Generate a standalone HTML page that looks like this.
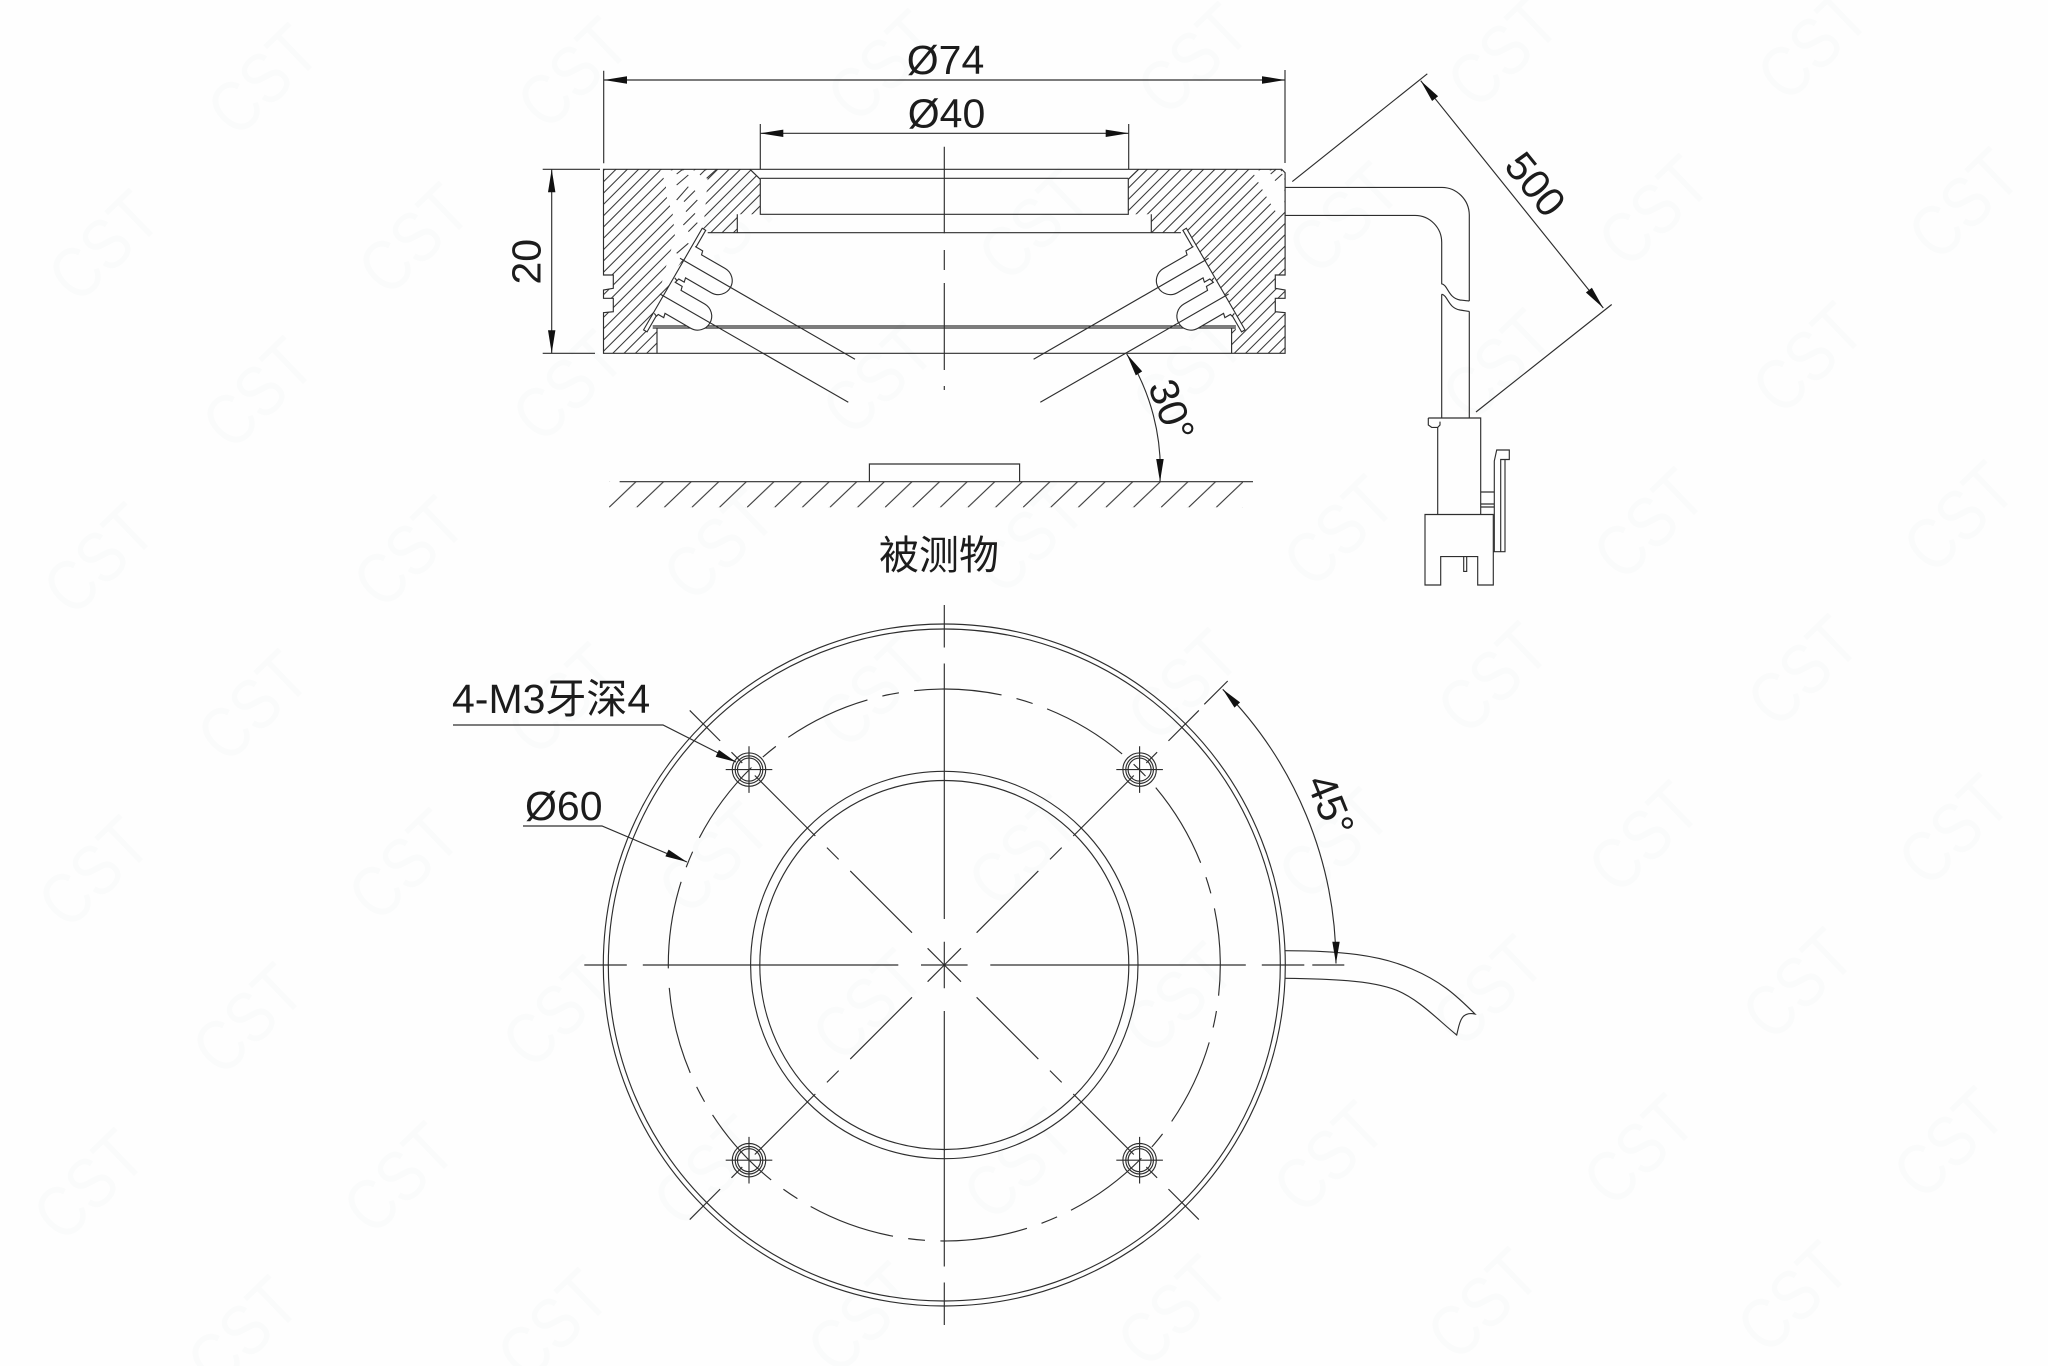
<!DOCTYPE html>
<html lang="zh">
<head>
<meta charset="utf-8">
<title>Ring light drawing</title>
<style>
html,body{margin:0;padding:0;background:#fefefe;width:2048px;height:1366px;overflow:hidden}
svg{display:block}
.wm text{font-family:"Liberation Sans",sans-serif;font-size:60px;fill:#fafbfb;text-anchor:middle}
.l{fill:none;stroke:#2e2e2e;stroke-width:1.15}
.t{font-family:"Liberation Sans","Noto Sans CJK SC",sans-serif;font-size:41px;fill:#1c1c1c}
.m{text-anchor:middle}
.a{fill:#111;stroke:none}
</style>
</head>
<body>
<svg xmlns="http://www.w3.org/2000/svg" width="2048" height="1366" viewBox="0 0 2048 1366">
<defs>
<clipPath id="blocks">
<polygon points="603.5,169.3 750,169.3 760.3,179.3 760.3,214.3 737.3,214.3 737.3,232.7 707.7,232.7 702.3,228.3 643.3,330 650.7,331.7 655,327 657,327 657,353.3 603.5,353.3 603.5,312.7 613.3,311.7 613.3,298.3 603.5,298.3 603.5,290 613.3,288.3 613.3,275 603.5,275"/>
<polygon points="1285.1,172.7 1281.7,169.3 1138.6,169.3 1128.3,179.3 1128.3,214.3 1151.3,214.3 1151.3,232.7 1180.9,232.7 1186.3,228.3 1245.3,330 1237.9,331.7 1233.6,327 1231.6,327 1231.6,353.3 1285.1,353.3 1285.1,312.7 1275.3,311.7 1275.3,298.3 1285.1,298.3 1285.1,290 1275.3,288.3 1275.3,275 1285.1,275"/>
</clipPath>
<pattern id="gh" patternUnits="userSpaceOnUse" x="609" y="481.7" width="27.6" height="25.7">
<line x1="27" y1="0" x2="0" y2="25.7" stroke="#333" stroke-width="1.1"/>
</pattern>
<g id="leds" transform="translate(580 150) scale(.33333) rotate(30)" fill="#fefefe" stroke="#2e2e2e" stroke-width="3.4">
<rect x="435" y="20" width="12" height="352"/>
<path d="M444 78H470L473 90H555A42 42 0 0 1 555 174H466L469 187H450L448 194L438 190"/>
<path d="M444 201H470L473 213H555A42 42 0 0 1 555 297H466L469 310H450L448 317L438 313"/>
</g>
<path id="axis" class="l" d="M0 0H23.3M46 0H301.5M317.5 0H360"/>
<path id="diag" class="l" d="M0 0H23.6M45.7 0H133M149.4 0H166M182.4 0H268M285.7 0H301M317 0H360"/>
<g id="hole" class="l"><circle r="16.7"/><circle r="13.8"/><circle r="11.5"/><path d="M-23.3 0H23.3M0 -23.3V23.3"/></g>
</defs>

<rect width="2048" height="1366" fill="#fefefe"/>

<g class="wm" transform="translate(17 18)">
<text transform="translate(263 80)rotate(-44)scale(1 1.2)">CST</text>
<text transform="translate(573 73)rotate(-44)scale(1 1.2)">CST</text>
<text transform="translate(883 66)rotate(-44)scale(1 1.2)">CST</text>
<text transform="translate(1193 59)rotate(-44)scale(1 1.2)">CST</text>
<text transform="translate(1503 52)rotate(-44)scale(1 1.2)">CST</text>
<text transform="translate(1813 45)rotate(-44)scale(1 1.2)">CST</text>
<text transform="translate(258 393)rotate(-44)scale(1 1.2)">CST</text>
<text transform="translate(568 386)rotate(-44)scale(1 1.2)">CST</text>
<text transform="translate(878 379)rotate(-44)scale(1 1.2)">CST</text>
<text transform="translate(1188 372)rotate(-44)scale(1 1.2)">CST</text>
<text transform="translate(1498 365)rotate(-44)scale(1 1.2)">CST</text>
<text transform="translate(1808 358)rotate(-44)scale(1 1.2)">CST</text>
<text transform="translate(253 706)rotate(-44)scale(1 1.2)">CST</text>
<text transform="translate(563 699)rotate(-44)scale(1 1.2)">CST</text>
<text transform="translate(873 692)rotate(-44)scale(1 1.2)">CST</text>
<text transform="translate(1183 685)rotate(-44)scale(1 1.2)">CST</text>
<text transform="translate(1493 678)rotate(-44)scale(1 1.2)">CST</text>
<text transform="translate(1803 671)rotate(-44)scale(1 1.2)">CST</text>
<text transform="translate(248 1019)rotate(-44)scale(1 1.2)">CST</text>
<text transform="translate(558 1012)rotate(-44)scale(1 1.2)">CST</text>
<text transform="translate(868 1005)rotate(-44)scale(1 1.2)">CST</text>
<text transform="translate(1178 998)rotate(-44)scale(1 1.2)">CST</text>
<text transform="translate(1488 991)rotate(-44)scale(1 1.2)">CST</text>
<text transform="translate(1798 984)rotate(-44)scale(1 1.2)">CST</text>
<text transform="translate(243 1332)rotate(-44)scale(1 1.2)">CST</text>
<text transform="translate(553 1325)rotate(-44)scale(1 1.2)">CST</text>
<text transform="translate(863 1318)rotate(-44)scale(1 1.2)">CST</text>
<text transform="translate(1173 1311)rotate(-44)scale(1 1.2)">CST</text>
<text transform="translate(1483 1304)rotate(-44)scale(1 1.2)">CST</text>
<text transform="translate(1793 1297)rotate(-44)scale(1 1.2)">CST</text>
<text transform="translate(104 246)rotate(-44)scale(1 1.2)">CST</text>
<text transform="translate(414 239)rotate(-44)scale(1 1.2)">CST</text>
<text transform="translate(724 232)rotate(-44)scale(1 1.2)">CST</text>
<text transform="translate(1034 225)rotate(-44)scale(1 1.2)">CST</text>
<text transform="translate(1344 218)rotate(-44)scale(1 1.2)">CST</text>
<text transform="translate(1654 211)rotate(-44)scale(1 1.2)">CST</text>
<text transform="translate(1964 204)rotate(-44)scale(1 1.2)">CST</text>
<text transform="translate(99 559)rotate(-44)scale(1 1.2)">CST</text>
<text transform="translate(409 552)rotate(-44)scale(1 1.2)">CST</text>
<text transform="translate(719 545)rotate(-44)scale(1 1.2)">CST</text>
<text transform="translate(1029 538)rotate(-44)scale(1 1.2)">CST</text>
<text transform="translate(1339 531)rotate(-44)scale(1 1.2)">CST</text>
<text transform="translate(1649 524)rotate(-44)scale(1 1.2)">CST</text>
<text transform="translate(1959 517)rotate(-44)scale(1 1.2)">CST</text>
<text transform="translate(94 872)rotate(-44)scale(1 1.2)">CST</text>
<text transform="translate(404 865)rotate(-44)scale(1 1.2)">CST</text>
<text transform="translate(714 858)rotate(-44)scale(1 1.2)">CST</text>
<text transform="translate(1024 851)rotate(-44)scale(1 1.2)">CST</text>
<text transform="translate(1334 844)rotate(-44)scale(1 1.2)">CST</text>
<text transform="translate(1644 837)rotate(-44)scale(1 1.2)">CST</text>
<text transform="translate(1954 830)rotate(-44)scale(1 1.2)">CST</text>
<text transform="translate(89 1185)rotate(-44)scale(1 1.2)">CST</text>
<text transform="translate(399 1178)rotate(-44)scale(1 1.2)">CST</text>
<text transform="translate(709 1171)rotate(-44)scale(1 1.2)">CST</text>
<text transform="translate(1019 1164)rotate(-44)scale(1 1.2)">CST</text>
<text transform="translate(1329 1157)rotate(-44)scale(1 1.2)">CST</text>
<text transform="translate(1639 1150)rotate(-44)scale(1 1.2)">CST</text>
<text transform="translate(1949 1143)rotate(-44)scale(1 1.2)">CST</text>
</g>

<!-- section hatch -->
<path clip-path="url(#blocks)" fill="none" stroke="#3a3a3a" stroke-width="1.05" d="M420 354l185-185M431.3 354l185-185M442.6 354l185-185M453.9 354l185-185M465.2 354l185-185M476.5 354l185-185M487.8 354l185-185M499.1 354l185-185M510.4 354l185-185M521.7 354l185-185M533 354l185-185M544.3 354l185-185M555.6 354l185-185M566.9 354l185-185M578.2 354l185-185M589.5 354l185-185M600.8 354l185-185M612.1 354l185-185M623.4 354l185-185M634.7 354l185-185M646 354l185-185M657.3 354l185-185M939.8 354l185-185M951.1 354l185-185M962.4 354l185-185M973.7 354l185-185M985 354l185-185M996.3 354l185-185M1007.6 354l185-185M1018.9 354l185-185M1030.2 354l185-185M1041.5 354l185-185M1052.8 354l185-185M1064.1 354l185-185M1075.4 354l185-185M1086.7 354l185-185M1098 354l185-185M1109.3 354l185-185M1120.6 354l185-185M1131.9 354l185-185M1143.2 354l185-185M1154.5 354l185-185M1165.8 354l185-185M1177.1 354l185-185M1188.4 354l185-185M1199.7 354l185-185M1211 354l185-185M1222.3 354l185-185M1233.6 354l185-185M1244.9 354l185-185M1256.2 354l185-185M1267.5 354l185-185M1278.8 354l185-185"/>

<!-- erased hatch band left -->
<g transform="translate(580 150) scale(.33333)">
<polygon fill="#fefefe" points="240,61 258,100 258,135 278,190 285,260 258,350 236,435 300,340 370,235 378,150 385,61"/>
<path fill="none" stroke="#3a3a3a" stroke-width="3.2" d="M290 72L308 58M360 75L377 58M290 105L325 75M290 150L325 110M312 155L345 122M318 185L352 150M310 225L345 190M325 245L352 218M290 310L325 280M380 85L410 58"/>
</g>
<!-- erased hatch band right -->
<g transform="translate(1000 150) scale(.33333)">
<polygon fill="#fefefe" points="755,61 805,150 832,192 853,175 853,72 840,61"/>
<path fill="none" stroke="#3a3a3a" stroke-width="3.2" d="M812 72L828 58M825 92L847 72"/>
</g>

<!-- section outline -->
<path class="l" d="M603.5 169.3H1281.7L1285.1 172.7V275H1275.3V288.3L1285.1 290V298.3H1275.3V311.7L1285.1 312.7V353.3H603.5V312.7L613.3 311.7V298.3H603.5V290L613.3 288.3V275H603.5Z"/>
<path class="l" d="M750 169.3L760.3 179.3V214.3H1128.3V179.3L1138.6 169.3M760.3 178.3H1128.3M737.3 214.3V232.7M1151.3 214.3V232.7M707.7 232.7H1180.9M652.7 326H1235.9M652.7 328H1235.9M657 328V353.3M1231.6 328V353.3"/>
<use href="#leds"/>
<use href="#leds" transform="translate(1888.6 0) scale(-1 1)"/>
<path class="l" d="M680 258.3L855 359.3M660 294L848.3 402.3M1208.6 258.3L1033.6 359.3M1228.6 294L1040.3 402.3"/>
<path class="l" d="M944.3 146.7V233.3M944.3 250V270M944.3 283V370M944.3 386V390"/>

<!-- dim lines section -->
<path class="l" d="M603.7 70.7V163.3M1285 70V163M604 80H1285M760.3 124V169.3M1128.7 124V169.3M760.3 133.3H1128.7"/>
<polygon class="a" points="604,80 627,76.2 627,83.8"/>
<polygon class="a" points="1285,80 1262,76.2 1262,83.8"/>
<polygon class="a" points="760.3,133.3 783.3,129.6 783.3,137"/>
<polygon class="a" points="1128.7,133.3 1105.7,129.6 1105.7,137"/>
<path class="l" d="M542.7 169.3H600M542.7 353.3H595M551.7 169.3V353.3"/>
<polygon class="a" points="551.7,169.3 548,192.3 555.4,192.3"/>
<polygon class="a" points="551.7,353.3 548,330.3 555.4,330.3"/>

<text class="t m" x="945.5" y="74">Ø74</text>
<text class="t m" x="946.5" y="127.3">Ø40</text>
<text class="t m" transform="translate(540.7 261.7) rotate(-90)">20</text>

<!-- cable -->
<path class="l" d="M1285 187.4H1442A27.6 28 0 0 1 1469.3 215V301M1285 215.4H1415A26.7 27 0 0 1 1441.7 242.5V283.8C1448 285 1448 298 1460 300C1464 300.5 1466 300.8 1469.3 301M1441.7 294.2C1448 295.5 1448 308 1460 310C1464 310.5 1466 311 1469.3 311.4M1441.7 294.2V418M1469.3 311.4V418"/>
<path class="l" d="M1292.3 181.6L1427.3 73.8M1476 412L1611.7 304.5M1420.7 80.7L1603.3 308"/>
<polygon class="a" points="1420.7,80.7 1438.1,96.2 1432.1,101"/>
<polygon class="a" points="1603.3,308 1591.9,287.7 1585.9,292.5"/>
<text class="t m" transform="translate(1535.7 184) rotate(51)" dy="14.5">500</text>

<!-- connector -->
<path class="l" d="M1428.3 418H1480.7V514.5M1428.3 418V425L1431.7 427.4H1437.7L1440 425V421.6M1437.7 427.4V514.5"/>
<path class="l" d="M1425 514.5H1493.3V585H1477.7V556.6H1440.7V585H1425ZM1463.7 556.6V571.4H1466.7V556.6"/>
<path class="l" d="M1480.7 492H1494.3V461L1496.7 450H1509.3V459.5H1500.7V551.7H1493.3M1505 459.5V551.7H1500.7M1494.3 492V551.7M1480.7 504H1494.3M1480.7 507H1494.3"/>

<!-- ground -->
<rect x="609" y="481.7" width="634" height="25.7" fill="url(#gh)"/>
<path class="l" d="M619.6 481.7H1253M869.4 481.7V464H1019.6V481.7"/>
<text x="939" y="569" class="m" style="font-family:'Noto Sans CJK SC','WenQuanYi Zen Hei',sans-serif;font-size:40px;fill:#1c1c1c">被测物</text>

<!-- 30 deg -->
<path class="l" d="M1126.7 354A216 216 0 0 1 1160 481.7"/>
<polygon class="a" points="1126.7,354 1142.2,371.4 1135.8,375.4"/>
<polygon class="a" points="1160,481.7 1156.2,459 1163.7,459"/>
<text class="t m" transform="translate(1172 410) rotate(70)" dy="14.5">30°</text>

<!-- TOP VIEW -->
<g class="l">
<circle cx="944.3" cy="965" r="341"/>
<circle cx="944.3" cy="965" r="336"/>
<circle cx="944.3" cy="965" r="193.7"/>
<circle cx="944.3" cy="965" r="184.5"/>
<circle r="276" transform="translate(944.3 965) rotate(179.3)" pathLength="360" stroke-dasharray="18.25 3.2 3.5 3.2 18.25 3.2 3.5 3.2 18.25 3.2 3.5 3.2 18.25 3.2 3.5 3.2 18.25 3.2 3.5 3.2 18.25 3.2 3.5 3.2 18.25 3.2 3.5 3.2 18.25 3.2 3.5 3.2 18.25 3.2 3.5 3.2 18.25 3.2 3.5 3.2 18.25 3.2 3.5 3.2 18.25 3.2 3.5 3.2 18.25 6"/>
</g>
<use href="#axis" transform="translate(944.3 965)"/>
<use href="#axis" transform="translate(944.3 965) rotate(90)"/>
<use href="#axis" transform="translate(944.3 965) rotate(180)"/>
<use href="#axis" transform="translate(944.3 965) rotate(270)"/>
<use href="#diag" transform="translate(944.3 965) rotate(45)"/>
<use href="#diag" transform="translate(944.3 965) rotate(135)"/>
<use href="#diag" transform="translate(944.3 965) rotate(225)"/>
<use href="#diag" transform="translate(944.3 965) rotate(315)"/>
<path class="l" d="M1312.3 965H1344.3M1204.3 704.3L1227.7 681"/>
<use href="#hole" transform="translate(749 1160.2)"/>
<use href="#hole" transform="translate(1139.6 1160.2)"/>
<use href="#hole" transform="translate(749 769.6)"/>
<use href="#hole" transform="translate(1139.6 769.6)"/>

<!-- top view cable -->
<path class="l" d="M1285 950.7C1340 950.7 1380 955 1412 969C1440 981 1455 994 1475 1014C1460 1011 1459.5 1024 1456.7 1035C1438 1020 1420 1000 1396 990C1370 980 1330 979 1285 978.3"/>

<!-- 45 deg -->
<path class="l" d="M1222.7 689.3A391.8 391.8 0 0 1 1336 963.5"/>
<polygon class="a" points="1222.7,689.3 1240.1,702.4 1234.5,707.6"/>
<polygon class="a" points="1336,963.5 1332.3,941.7 1339.7,941.7"/>
<text class="t m" transform="translate(1331 805) rotate(68)" dy="14.5">45°</text>

<!-- leaders -->
<path class="l" d="M453 725H663L736 762M523 826H602L687 862"/>
<polygon class="a" points="736,762 718.9,749.9 715.7,756.7"/>
<polygon class="a" points="687,862 668.6,849.6 665.4,856.4"/>
<text class="t" x="452" y="713">4-M3牙深4</text>
<text class="t" x="525" y="820">Ø60</text>
</svg>
</body>
</html>
